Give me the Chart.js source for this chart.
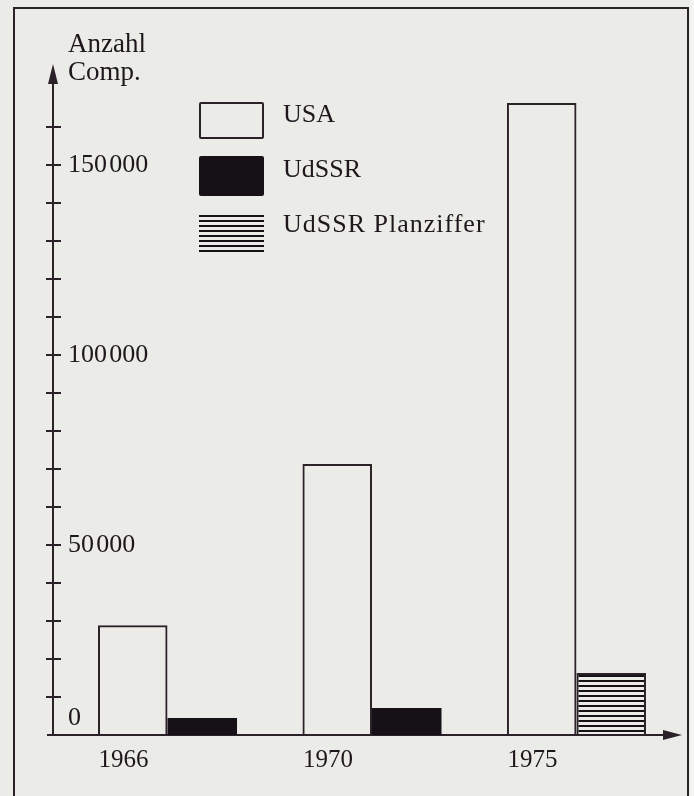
<!DOCTYPE html>
<html>
<head>
<meta charset="utf-8">
<script src="https://cdn.jsdelivr.net/npm/chart.js@4/dist/chart.umd.min.js"></script>
<style>
  html, body { margin: 0; padding: 0; background: #ebebe8; }
  #wrap { position: relative; width: 694px; height: 796px; overflow: hidden; background: #ebebe8; }
  #frame { position: absolute; left: 13px; top: 7px; width: 672px; height: 820px; border: 2px solid #2a2228; border-bottom: none; }
  #edge { position: absolute; left: 690px; top: 0; width: 4px; height: 796px; background: #f4f4f2; }
  canvas { position: absolute; left: 0; top: 0; }
  #ytitle { position: absolute; left: 68px; top: 29px; font: 27px/28px 'Liberation Serif', 'Times New Roman', serif; color: #1e181c; }
  #legend { position: absolute; left: 199px; top: 0; }
  .sw { position: absolute; left: 0; width: 65px; box-sizing: border-box; }
  .lbl { position: absolute; left: 84px; font: 26px/26px 'Liberation Serif', 'Times New Roman', serif; color: #1e181c; white-space: nowrap; }
</style>
</head>
<body>
<div id="wrap">
  <div id="frame"></div>
  <div id="edge"></div>
  <canvas id="c" width="694" height="796"></canvas>
  <div id="ytitle">Anzahl<br>Comp.</div>
  <div id="legend"></div>
</div>
<script>
// ---- data ----
const categories = ['1966', '1970', '1975'];
const seriesNames = ['USA', 'UdSSR', 'UdSSR Planziffer'];
const usa = [28900, 71300, 166300];
const udssr = [4500, 7100, null];
const udssrPlan = [null, null, 16300];
const yLabelValues = [0, 50000, 100000, 150000];
const yLabelTexts = ['0', '50\u200A000', '100\u200A000', '150\u200A000'];

// ---- styles ----
const ink = '#2a2228';
const fillInk = '#161116';
const canvas = document.getElementById('c');
const ctx = canvas.getContext('2d');

const pc = document.createElement('canvas');
pc.width = 8; pc.height = 5;
const pg = pc.getContext('2d');
pg.fillStyle = fillInk;
pg.fillRect(0, 0, 8, 2);
const stripes = ctx.createPattern(pc, 'repeat');

const toPoints = (arr) => categories.map((c, i) => ({ x: i, y: arr[i] }));

const axisDecor = {
  id: 'axisDecor',
  afterDraw(chart) {
    const { ctx, chartArea: a, scales: { y } } = chart;
    ctx.save();
    ctx.strokeStyle = ink;
    ctx.fillStyle = ink;
    ctx.lineWidth = 2;
    y.ticks.forEach(t => {
      if (t.value === 0) return;
      const py = Math.round(y.getPixelForValue(t.value));
      ctx.beginPath();
      ctx.moveTo(a.left - 7, py);
      ctx.lineTo(a.left + 8, py);
      ctx.stroke();
    });
    // extend axes
    ctx.beginPath();
    ctx.moveTo(a.left - 6, a.bottom);
    ctx.lineTo(a.left, a.bottom);
    ctx.moveTo(a.left, a.top);
    ctx.lineTo(a.left, a.top - 8);
    ctx.stroke();
    // y arrow
    ctx.beginPath();
    ctx.moveTo(a.left, a.top - 25);
    ctx.lineTo(a.left - 5, a.top - 5);
    ctx.lineTo(a.left + 5, a.top - 5);
    ctx.closePath();
    ctx.fill();
    // x arrow
    ctx.beginPath();
    ctx.moveTo(a.right + 17, a.bottom);
    ctx.lineTo(a.right - 2, a.bottom - 5);
    ctx.lineTo(a.right - 2, a.bottom + 5);
    ctx.closePath();
    ctx.fill();
    ctx.restore();
  }
};

const chart = new Chart(ctx, {
  type: 'bar',
  data: {
    datasets: [
      { label: seriesNames[0], data: toPoints(usa), stack: 'a',
        backgroundColor: 'rgba(0,0,0,0)', borderColor: ink, borderWidth: 2, borderSkipped: 'bottom' },
      { label: seriesNames[1], data: toPoints(udssr), stack: 'b',
        backgroundColor: fillInk, borderWidth: 0 },
      { label: seriesNames[2], data: toPoints(udssrPlan), stack: 'b',
        backgroundColor: stripes, borderColor: ink, borderWidth: 2, borderSkipped: 'bottom' }
    ]
  },
  options: {
    responsive: false,
    animation: false,
    devicePixelRatio: 1,
    layout: { padding: { top: 89, right: 29, left: 0, bottom: 0 } },
    plugins: { legend: { display: false }, tooltip: { enabled: false } },
    datasets: { bar: { categoryPercentage: 0.68, barPercentage: 1 } },
    scales: {
      x: {
        type: 'linear', min: -0.56, max: 2.433, offset: false,
        grid: { display: false, drawTicks: false },
        border: { display: true, color: ink, width: 2 },
        ticks: {
          stepSize: 1, includeBounds: false, autoSkip: false, maxRotation: 0,
          labelOffset: -44, padding: 13, color: '#1e181c',
          font: { family: "'Liberation Serif', 'Times New Roman', serif", size: 25, lineHeight: 1 },
          callback: (v) => Number.isInteger(v) && categories[v] !== undefined ? categories[v] : ''
        },
        afterFit: (s) => { s.height = 61; }
      },
      y: {
        type: 'linear', min: 0, max: 170000,
        grid: { display: false, drawTicks: false },
        border: { display: true, color: ink, width: 2 },
        ticks: {
          stepSize: 10000, autoSkip: false, mirror: true, padding: 15, color: '#1e181c',
          font: { family: "'Liberation Serif', 'Times New Roman', serif", size: 26, lineHeight: 1.3 },
          callback: (v) => {
            const k = yLabelValues.indexOf(v);
            if (k < 0) return '';
            return v === 0 ? [yLabelTexts[k], ''] : yLabelTexts[k];
          }
        },
        afterBuildTicks: (s) => { s.ticks = s.ticks.filter(t => t.value <= 160000); },
        afterFit: (s) => { s.width = 53; }
      }
    }
  },
  plugins: [axisDecor]
});

// ---- HTML legend built from the datasets ----
const legend = document.getElementById('legend');
const swatchTops = [102, 156, 215];
const swatchHeights = [37, 40, 37];
const labelTops = [101, 156, 211];
const labelSpacing = ['0px', '0px', '1px'];
chart.data.datasets.forEach((ds, i) => {
  const sw = document.createElement('div');
  sw.className = 'sw';
  sw.style.top = swatchTops[i] + 'px';
  sw.style.height = swatchHeights[i] + 'px';
  if (i === 0) { sw.style.border = '2px solid ' + ink; sw.style.borderRadius = '2px'; }
  else if (i === 1) { sw.style.background = fillInk; sw.style.borderRadius = '2px'; }
  else { sw.style.background = 'repeating-linear-gradient(to bottom, ' + fillInk + ' 0px, ' + fillInk + ' 2px, transparent 2px, transparent 5px)'; }
  legend.appendChild(sw);
  const lb = document.createElement('div');
  lb.className = 'lbl';
  lb.style.top = labelTops[i] + 'px';
  lb.style.letterSpacing = labelSpacing[i];
  lb.textContent = ds.label;
  legend.appendChild(lb);
});
</script>
</body>
</html>
